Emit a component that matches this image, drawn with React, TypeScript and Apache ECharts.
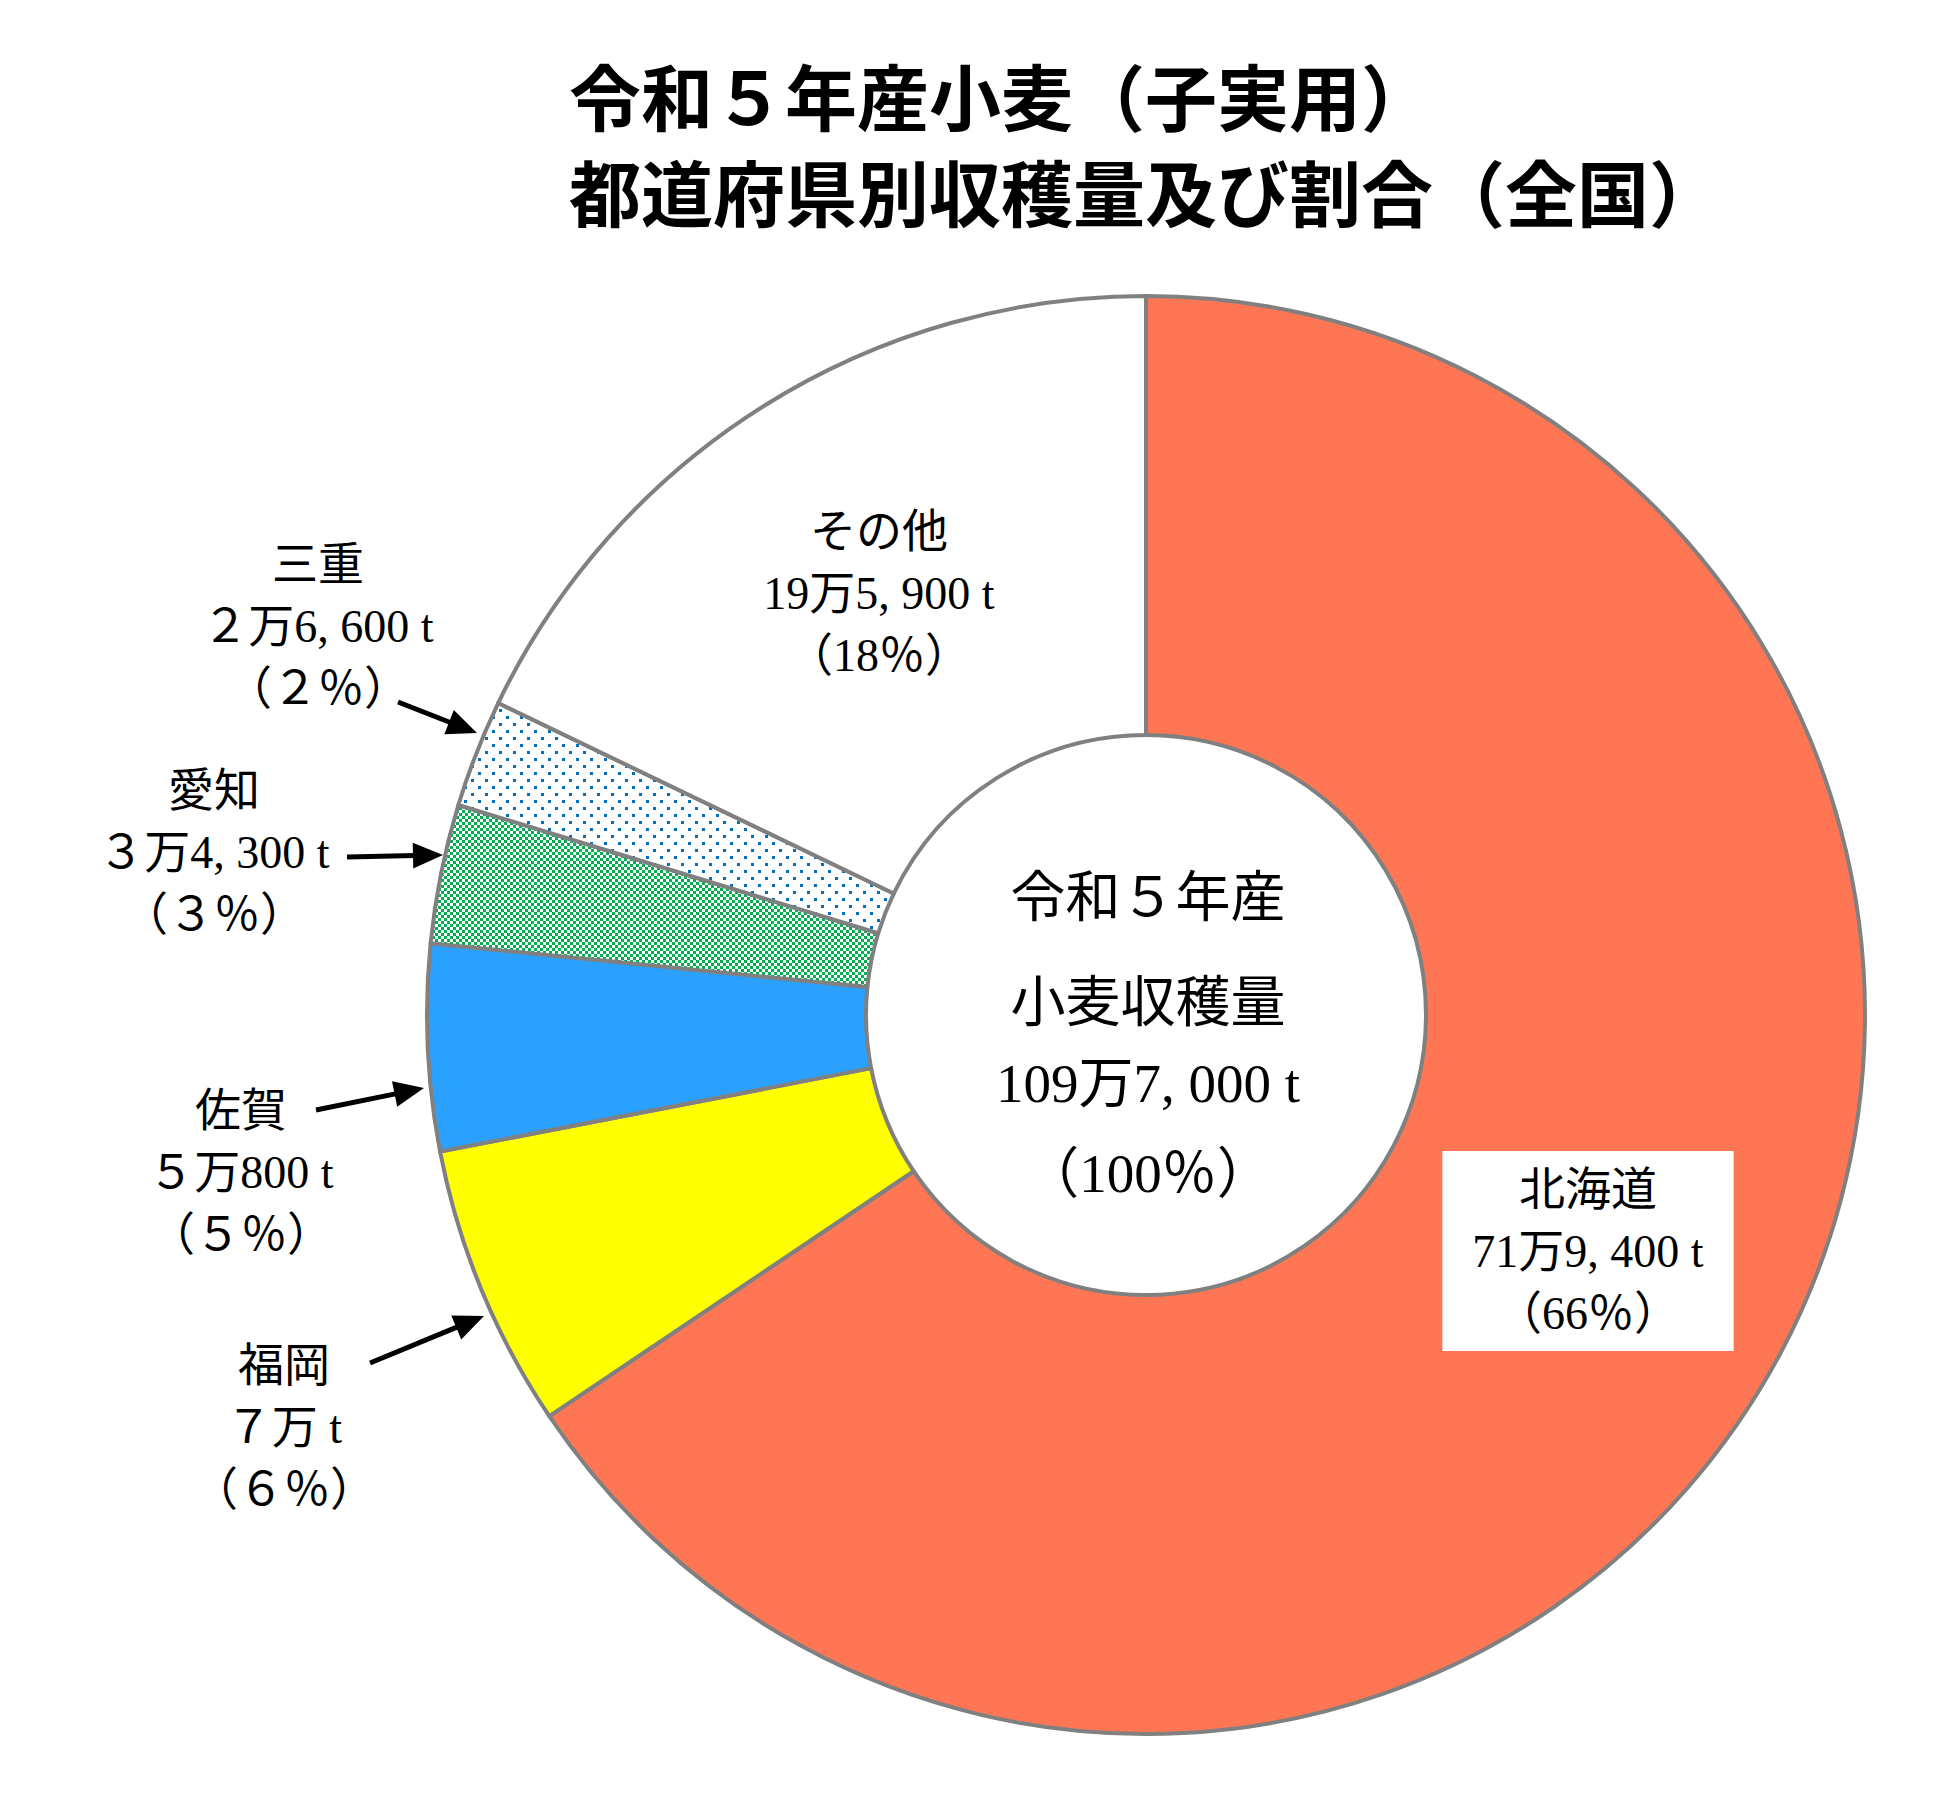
import React, { useEffect, useRef } from "react";
import * as echarts from "echarts";

const names = ["北海道", "福岡", "佐賀", "愛知", "三重", "その他"];
const values = [719400, 70000, 50800, 34300, 26600, 195900];
const titleLines = ["令和５年産小麦（子実用）", "都道府県別収穫量及び割合（全国）"];
const centerHeading = ["令和５年産", "小麦収穫量"];

const labelPos: [number, number][] = [
  [1588, 1251],
  [284, 1427],
  [241, 1172],
  [214, 852],
  [318, 626],
  [879, 593],
];
const arrows: [number, number, number, number][] = [
  [370, 1363, 484, 1316],
  [316, 1110, 424, 1088],
  [347, 857, 443, 855],
  [398, 702, 477, 733],
];

const SERIF = "'Liberation Serif', 'DejaVu Serif', 'Noto Sans CJK JP', serif";
const GOTHIC = "'Noto Sans CJK JP', 'Noto Sans', sans-serif";

const toFW = (s: string) =>
  s.replace(/[0-9]/g, (d) => String.fromCharCode(d.charCodeAt(0) + 0xfee0));

function fmtTon(v: number): string {
  const man = Math.floor(v / 10000);
  const rest = v % 10000;
  const manStr = man < 10 ? toFW(String(man)) : String(man);
  let restStr = "";
  if (rest >= 1000) restStr = `${Math.floor(rest / 1000)}, ${String(rest % 1000).padStart(3, "0")}`;
  else if (rest > 0) restStr = String(rest);
  return `${manStr}万${restStr} t`;
}
function fmtPct(p: number): string {
  const s = p < 10 ? toFW(String(p)) : String(p);
  return `（${s}％）`;
}

function makeDots(): HTMLCanvasElement {
  const c = document.createElement("canvas");
  c.width = 14;
  c.height = 14;
  const g = c.getContext("2d")!;
  g.fillStyle = "#ffffff";
  g.fillRect(0, 0, 14, 14);
  g.fillStyle = "#0070C0";
  g.fillRect(2, 2, 3, 3);
  g.fillRect(9, 9, 3, 3);
  return c;
}
function makeChecker(): HTMLCanvasElement {
  const c = document.createElement("canvas");
  c.width = 6;
  c.height = 6;
  const g = c.getContext("2d")!;
  g.fillStyle = "#ffffff";
  g.fillRect(0, 0, 6, 6);
  g.fillStyle = "#00B050";
  g.fillRect(0, 0, 3, 3);
  g.fillRect(3, 3, 3, 3);
  return c;
}

function arrowGraphic(x1: number, y1: number, x2: number, y2: number) {
  const dx = x2 - x1;
  const dy = y2 - y1;
  const len = Math.sqrt(dx * dx + dy * dy);
  const ux = dx / len;
  const uy = dy / len;
  const hl = 30;
  const hw = 13;
  const bx = x2 - ux * hl;
  const by = y2 - uy * hl;
  return [
    {
      type: "line",
      shape: { x1, y1, x2: bx + ux * 2, y2: by + uy * 2 },
      style: { stroke: "#000", lineWidth: 5 },
      z: 10,
    },
    {
      type: "polygon",
      shape: {
        points: [
          [x2, y2],
          [bx - uy * hw, by + ux * hw],
          [bx + uy * hw, by - ux * hw],
        ],
      },
      style: { fill: "#000" },
      z: 10,
    },
  ];
}

export default function App() {
  const ref = useRef<HTMLDivElement>(null);
  useEffect(() => {
    if (!ref.current) return;
    const chart = echarts.init(ref.current, null, { renderer: "svg" });
    const total = values.reduce((a, b) => a + b, 0);
    const dots = makeDots();
    const checker = makeChecker();
    const colors: any[] = [
      "#FF7654",
      "#FFFF00",
      "#2AA1FF",
      { image: checker, repeat: "repeat", imageWidth: 6, imageHeight: 6 },
      { image: dots, repeat: "repeat", imageWidth: 14, imageHeight: 14 },
      "#FFFFFF",
    ];
    const data = names.map((n, i) => {
      const item: any = {
        name: n,
        value: values[i],
        itemStyle: { color: colors[i] },
      };
      if (i === 0) {
        item.label = { backgroundColor: "#ffffff", padding: [7, 30] };
      }
      return item;
    });
    const centerLines = [
      ...centerHeading,
      fmtTon(total),
      fmtPct(Math.round((total / total) * 100)),
    ];
    const centerY = [897, 1002, 1083, 1173];
    const graphics: any[] = centerLines.map((t, i) => ({
      type: "text",
      x: 1148,
      y: centerY[i],
      style: {
        text: t,
        fill: "#000",
        font: `55px ${SERIF}`,
        align: "center",
        verticalAlign: "middle",
      },
      z: 10,
    }));
    arrows.forEach((a) => graphics.push(...arrowGraphic(a[0], a[1], a[2], a[3])));

    chart.setOption({
      animation: false,
      backgroundColor: "#ffffff",
      title: {
        text: titleLines.join("\n"),
        left: 564,
        top: 40,
        textStyle: {
          fontFamily: GOTHIC,
          fontSize: 72,
          fontWeight: "bold",
          lineHeight: 96,
          color: "#000",
        },
      },
      graphic: graphics,
      series: [
        {
          type: "pie",
          center: [1146, 1015],
          radius: [280, 719],
          startAngle: 90,
          clockwise: true,
          avoidLabelOverlap: false,
          itemStyle: { borderColor: "#808080", borderWidth: 4 },
          emphasis: { disabled: true },
          label: {
            show: true,
            position: "outside",
            color: "#000",
            fontFamily: SERIF,
            fontSize: 46,
            lineHeight: 62,
            align: "center",
            formatter: (p: any) =>
              `${p.name}\n${fmtTon(p.value)}\n${fmtPct(Math.round((p.value / total) * 100))}`,
          },
          labelLine: { show: false },
          labelLayout: (p: any) => ({
            x: labelPos[p.dataIndex][0],
            y: labelPos[p.dataIndex][1],
            align: "center",
            verticalAlign: "middle",
          }),
          data,
        },
      ],
    });
    return () => chart.dispose();
  }, []);
  return (
    <div
      ref={ref}
      style={{ position: "absolute", left: 0, top: 0, width: 1956, height: 1815 }}
    />
  );
}
